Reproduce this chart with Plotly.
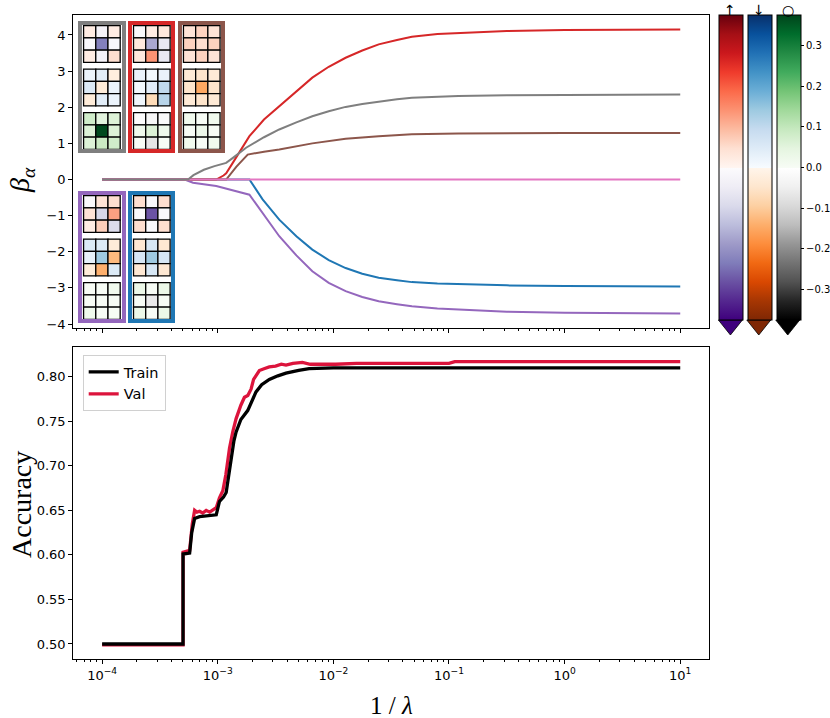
import numpy as np
import plotly.graph_objects as go

W, H = 830, 718

# ---- top panel: coefficient paths, x given as log10(1/lambda) ----
gray_lx = [-4.0, -3.257, -3.21, -3.12, -3.028, -2.927, -2.86, -2.755, -2.60, -2.468, -2.32, -2.182,
           -2.04, -1.894, -1.75, -1.608, -1.45, -1.321, -1.1, -0.919, -0.5, 0.0, 1.0]
gray_b = [0, 0, 0.12, 0.27, 0.37, 0.46, 0.62, 0.88, 1.17, 1.385, 1.58, 1.75,
          1.89, 2.01, 2.09, 2.16, 2.22, 2.26, 2.29, 2.31, 2.33, 2.34, 2.35]
red_lx = [-4.0, -3.013, -2.95, -2.927, -2.87, -2.80, -2.726, -2.60, -2.468, -2.32, -2.182, -2.04,
          -1.894, -1.75, -1.608, -1.45, -1.321, -1.1, -0.919, -0.5, 0.0, 1.0]
red_b = [0, 0, 0.11, 0.17, 0.46, 0.82, 1.2, 1.66, 2.03, 2.45, 2.82, 3.12,
         3.37, 3.57, 3.74, 3.86, 3.95, 4.03, 4.06, 4.11, 4.14, 4.15]
brown_lx = [-4.0, -2.927, -2.84, -2.741, -2.60, -2.468, -2.182, -1.894, -1.608, -1.321, -0.919, 0.0, 1.0]
brown_b = [0, 0, 0.35, 0.69, 0.77, 0.83, 1.0, 1.13, 1.2, 1.25, 1.27, 1.29, 1.29]
purple_lx = [-4.0, -3.286, -3.214, -3.013, -2.726, -2.612, -2.468, -2.32, -2.182, -2.04, -1.894,
             -1.75, -1.608, -1.45, -1.321, -1.1, -0.919, -0.5, 0.0, 1.0]
purple_b = [0, 0, -0.09, -0.18, -0.42, -0.92, -1.57, -2.1, -2.54, -2.86, -3.09,
            -3.25, -3.37, -3.45, -3.51, -3.57, -3.60, -3.66, -3.69, -3.71]
blue_lx = [-4.0, -2.726, -2.612, -2.468, -2.32, -2.182, -2.04, -1.894, -1.75, -1.608, -1.45,
           -1.321, -1.1, -0.919, -0.5, 0.0, 1.0]
blue_b = [0, 0, -0.55, -1.11, -1.57, -1.94, -2.23, -2.45, -2.61, -2.72, -2.79,
          -2.84, -2.88, -2.90, -2.93, -2.95, -2.96]
pink_lx = [-4.0, 1.0]
pink_b = [0, 0]

# ---- bottom panel: accuracy ----
train_lx = [-4.0, -3.30, -3.30, -3.243, -3.225, -3.20, -3.157, -3.05, -3.013, -2.985, -2.95, -2.927,
            -2.90, -2.884, -2.86, -2.841, -2.80, -2.741, -2.70, -2.669, -2.62, -2.554, -2.48,
            -2.41, -2.30, -2.21, -2.0, -1.69, 1.0]
train_acc = [0.500, 0.500, 0.601, 0.602, 0.625, 0.641, 0.643, 0.644, 0.645, 0.660, 0.665, 0.670,
             0.695, 0.712, 0.728, 0.738, 0.752, 0.762, 0.775, 0.783, 0.791, 0.797, 0.801,
             0.804, 0.807, 0.809, 0.810, 0.810, 0.810]
val_lx = [-4.0, -3.30, -3.30, -3.243, -3.22, -3.20, -3.18, -3.157, -3.13, -3.10, -3.07, -3.04,
          -3.013, -2.985, -2.956, -2.93, -2.898, -2.87, -2.841, -2.80, -2.769, -2.74, -2.712,
          -2.69, -2.64, -2.60, -2.554, -2.50, -2.45, -2.41, -2.35, -2.268, -2.20, -2.124,
          -2.05, -1.98, -1.80, -1.0, -0.95, 1.0]
val_acc = [0.499, 0.499, 0.603, 0.605, 0.635, 0.650, 0.648, 0.649, 0.647, 0.650, 0.648, 0.651,
           0.653, 0.664, 0.672, 0.690, 0.720, 0.738, 0.753, 0.768, 0.777, 0.779, 0.786,
           0.797, 0.807, 0.809, 0.811, 0.812, 0.814, 0.813, 0.815, 0.816, 0.814, 0.814,
           0.814, 0.814, 0.815, 0.815, 0.817, 0.817]

x_tick_vals = [1e-4, 1e-3, 1e-2, 1e-1, 1e0, 1e1]
x_tick_text = ["10<sup>−4</sup>", "10<sup>−3</sup>", "10<sup>−2</sup>",
               "10<sup>−1</sup>", "10<sup>0</sup>", "10<sup>1</sup>"]

# ---- inset filters: rows are (up, down, circle) channels, each 3x3 ----
gray_up = [[0.02, -0.03, 0.02], [-0.015, -0.23, -0.015], [0.02, -0.03, 0.05]]
gray_down = [[0.02, 0.04, -0.02], [0.05, -0.03, 0.02], [-0.03, 0.04, 0.02]]
gray_circ = [[0.08, 0.05, 0.06], [0.06, 0.37, 0.06], [0.06, 0.09, 0.08]]
red_up = [[-0.01, 0.02, 0.03], [0.03, -0.17, -0.06], [0.03, 0.14, -0.06]]
red_down = [[0.025, 0.01, 0.025], [0.01, 0.04, 0.10], [0.015, -0.07, 0.11]]
red_circ = [[-0.01, -0.025, -0.015], [0.02, 0.06, 0.02], [0.0, -0.07, 0.0]]
brown_up = [[0.04, 0.065, 0.04], [0.065, 0.05, 0.065], [0.04, 0.065, 0.04]]
brown_down = [[-0.035, -0.05, -0.035], [-0.05, -0.15, -0.05], [-0.035, -0.05, -0.035]]
brown_circ = [[0.015, 0.0, 0.015], [0.0, 0.025, 0.0], [0.015, 0.0, 0.015]]
purple_up = [[-0.01, 0.04, 0.05], [0.04, -0.10, 0.125], [0.02, 0.07, -0.09]]
purple_down = [[0.05, 0.05, -0.03], [0.03, 0.14, -0.125], [-0.03, -0.14, 0.05]]
purple_circ = [[0.0, 0.0, 0.015], [0.0, 0.0, 0.0], [0.02, 0.0, 0.0]]
blue_up = [[0.05, -0.01, 0.05], [-0.01, -0.28, -0.01], [0.05, -0.01, 0.05]]
blue_down = [[-0.04, 0.06, -0.04], [0.06, 0.14, 0.06], [-0.04, 0.06, -0.04]]
blue_circ = [[0.03, 0.0, 0.03], [0.0, -0.06, 0.0], [0.03, 0.0, 0.03]]

cmin, cmax = -0.376, 0.376
cb_ticks = [-0.3, -0.2, -0.1, 0.0, 0.1, 0.2, 0.3]

reds = ["#fff5f0", "#fee0d2", "#fcbba1", "#fc9272", "#fb6a4a", "#ef3b2c", "#cb181d", "#a50f15", "#67000d"]
purples = ["#fcfbfd", "#efedf5", "#dadaeb", "#bcbddc", "#9e9ac8", "#807dba", "#6a51a3", "#54278f", "#3f007d"]
blues = ["#f7fbff", "#deebf7", "#c6dbef", "#9ecae1", "#6baed6", "#4292c6", "#2171b5", "#08519c", "#08306b"]
oranges = ["#fff5eb", "#fee6ce", "#fdd0a2", "#fdae6b", "#fd8d3c", "#f16913", "#d94801", "#a63603", "#7f2704"]
greens = ["#f7fcf5", "#e5f5e0", "#c7e9c0", "#a1d99b", "#74c476", "#41ab5d", "#238b45", "#006d2c", "#00441b"]
greys = ["#ffffff", "#f0f0f0", "#d9d9d9", "#bdbdbd", "#969696", "#737373", "#525252", "#252525", "#000000"]


def split_scale(pos, neg):
    n = len(pos) - 1
    lower = [[0.499 * (1 - i / n), c] for i, c in enumerate(neg)][::-1]
    upper = [[0.5 + 0.5 * i / n, c] for i, c in enumerate(pos)]
    return lower + upper


scales = [split_scale(reds, purples), split_scale(blues, oranges), split_scale(greens, greys)]


def dx(a, b):
    return [a / W, b / W]


def dy(top, bot):
    return [1 - bot / H, 1 - top / H]


fig = go.Figure()

lines = [(blue_lx, blue_b, "#1f77b4"), (red_lx, red_b, "#d62728"), (purple_lx, purple_b, "#9467bd"),
         (brown_lx, brown_b, "#8c564b"), (pink_lx, pink_b, "#e377c2"), (gray_lx, gray_b, "#7f7f7f")]
for lx, b, col in lines:
    fig.add_trace(go.Scatter(x=[10 ** v for v in lx], y=b, mode="lines", line=dict(color=col, width=2),
                             showlegend=False, xaxis="x", yaxis="y"))

fig.add_trace(go.Scatter(x=[10 ** v for v in val_lx], y=val_acc, mode="lines", name="Val",
                         line=dict(color="#dc143c", width=3.3), legendrank=2, xaxis="x2", yaxis="y2"))
fig.add_trace(go.Scatter(x=[10 ** v for v in train_lx], y=train_acc, mode="lines", name="Train",
                         line=dict(color="black", width=3.3), legendrank=1, xaxis="x2", yaxis="y2"))

# inset groups: (border colour, left px, top px, filters)
groups = [
    ("#7f7f7f", 78.3, 21, [gray_up, gray_down, gray_circ]),
    ("#d62728", 128.3, 21, [red_up, red_down, red_circ]),
    ("#8c564b", 178.3, 21, [brown_up, brown_down, brown_circ]),
    ("#9467bd", 78.3, 191, [purple_up, purple_down, purple_circ]),
    ("#1f77b4", 128.3, 191, [blue_up, blue_down, blue_circ]),
]
cb_left = [719.3, 747.7, 776.7]
rows, cols = np.indices((3, 3))
STEP = 3.55
axes_layout = {}
for gi, (bcol, left, top, filt) in enumerate(groups):
    n = gi + 3
    for ch, vals in enumerate(filt):
        show = gi == 0
        cb = None
        if show:
            cb = dict(x=cb_left[ch] / W, xanchor="left", xpad=0, y=1 - 15 / H, yanchor="top", ypad=0,
                      len=305 / H, lenmode="fraction", thickness=24, outlinewidth=1, outlinecolor="black")
            if ch == 2:
                cb.update(tickvals=cb_ticks, tickformat=".1f", tickfont=dict(size=10, color="black"),
                          ticks="outside", ticklen=3, tickcolor="black")
            else:
                cb.update(tickvals=[], showticklabels=False, ticks="")
        fig.add_trace(go.Scatter(
            x=cols.ravel(), y=(rows + ch * STEP).ravel(), mode="markers", showlegend=False,
            marker=dict(symbol="square", size=12.2, color=np.array(vals).ravel(), colorscale=scales[ch],
                        cmin=cmin, cmax=cmax, showscale=show, colorbar=cb,
                        line=dict(color="black", width=1.3)),
            xaxis=f"x{n}", yaxis=f"y{n}"))
    ax = dict(showline=True, mirror=True, linewidth=4, linecolor=bcol, showticklabels=False,
              ticks="", showgrid=False, zeroline=False, fixedrange=True)
    axes_layout[f"xaxis{n}"] = dict(ax, domain=dx(left + 4, left + 43.4), range=[-0.612, 2.612], anchor=f"y{n}")
    axes_layout[f"yaxis{n}"] = dict(ax, domain=dy(top + 4, top + 128.3), range=[9.6, -0.55], anchor=f"x{n}")

frame = dict(showline=True, mirror=True, linecolor="black", linewidth=1, showgrid=False,
             zeroline=False, ticks="outside", ticklen=4, tickcolor="black",
             tickfont=dict(size=13, color="black"))
xaxis_common = dict(frame, type="log", range=[-4.25, 1.25], tickvals=x_tick_vals, ticktext=x_tick_text,
                    minor=dict(ticks="outside", ticklen=2, tickcolor="black", dtick="D1", showgrid=False))

fig.update_layout(
    template="none", width=W, height=H, margin=dict(l=0, r=0, t=0, b=0), autosize=False,
    paper_bgcolor="white", plot_bgcolor="white", font=dict(family="DejaVu Sans", color="black"),
    xaxis=dict(xaxis_common, domain=dx(73.3, 710), anchor="y", showticklabels=False),
    yaxis=dict(frame, domain=dy(15.3, 328), range=[-4.11, 4.545], dtick=1, anchor="x"),
    xaxis2=dict(xaxis_common, domain=dx(73.3, 710), anchor="y2", matches="x"),
    yaxis2=dict(frame, domain=dy(346.7, 659.3), range=[0.4828, 0.8337], tickvals=[0.5, 0.55, 0.6, 0.65, 0.7, 0.75, 0.8],
                tickformat=".2f", anchor="x2"),
    legend=dict(x=82.7 / W, y=1 - 355 / H, xanchor="left", yanchor="top", bgcolor="white",
                bordercolor="#d0d0d0", borderwidth=1, font=dict(size=14.5, color="black")),
    **axes_layout,
)

# colorbar extension triangles
bot, tip = 320, 335
tri_cols = [purples[-1], oranges[-1], greys[-1]]
for left, col in zip(cb_left, tri_cols):
    x0, x1, xm = left / W, (left + 24) / W, (left + 12) / W
    fig.add_shape(type="path", xref="paper", yref="paper",
                  path=f"M {x0},{1 - bot / H} L {x1},{1 - bot / H} L {xm},{1 - tip / H} Z",
                  fillcolor=col, line=dict(color="black", width=0.8))

for left, sym in zip(cb_left, ["↑", "↓", "○"]):
    fig.add_annotation(x=(left + 12) / W, y=1 - 9.5 / H, xref="paper", yref="paper", text=sym,
                       xanchor="center", yanchor="middle", showarrow=False,
                       font=dict(size=14, color="black"))

fig.add_annotation(x=21 / W, y=1 - 180 / H, xref="paper", yref="paper", text="<i>β</i><sub><i>α</i></sub>",
                   xanchor="center", yanchor="middle", textangle=-90, showarrow=False,
                   font=dict(family="Liberation Serif", size=28))
fig.add_annotation(x=22 / W, y=1 - 504 / H, xref="paper", yref="paper", text="Accuracy",
                   xanchor="center", yanchor="middle", textangle=-90, showarrow=False,
                   font=dict(family="Liberation Serif", size=28))
fig.add_annotation(x=391.5 / W, y=1 - 705 / H, xref="paper", yref="paper", text="1 / <i>λ</i>",
                   xanchor="center", yanchor="middle", showarrow=False,
                   font=dict(family="Liberation Serif", size=25))

fig.write_html("out.html", config={"displayModeBar": False},
               post_script="document.body.style.margin='0';")
